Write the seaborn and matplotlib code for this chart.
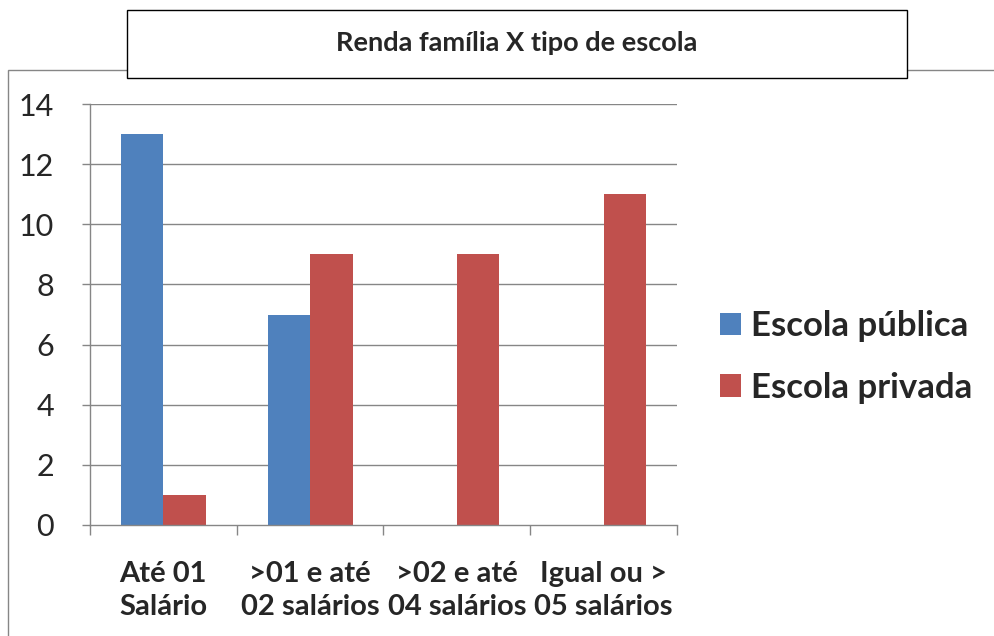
import matplotlib
matplotlib.use("Agg")
import matplotlib.pyplot as plt
from matplotlib.patches import Rectangle, Patch
import seaborn as sns
import pandas as pd

categories = ["Até 01\nSalário", ">01 e até\n02 salários", ">02 e até\n04 salários", "Igual ou >\n05 salários"]
series_names = ["Escola pública", "Escola privada"]
publica = [13, 7, 0, 0]
privada = [1, 9, 9, 11]
yticks = [0, 2, 4, 6, 8, 10, 12, 14]
title = "Renda família X tipo de escola"
colors = ["#4F81BD", "#C0504D"]

df = pd.DataFrame({
    "cat": categories * 2,
    "val": publica + privada,
    "serie": [series_names[0]] * 4 + [series_names[1]] * 4,
})

sns.set_theme(style="white")
plt.rcParams["font.family"] = ["Lato", "DejaVu Sans"]

W, H = 995, 636
fig = plt.figure(figsize=(W / 100, H / 100), dpi=100)
ax = fig.add_axes([90 / W, 1 - 525 / H, (677 - 90) / W, (525 - 104) / H])

sns.barplot(data=df, x="cat", y="val", hue="serie", palette=colors, width=0.58,
            ax=ax, legend=False, saturation=1, edgecolor="none")

ax.set_ylim(0, 14)
ax.set_xlim(-0.5, 3.5)
ax.set_yticks(yticks)
ax.set_yticklabels([str(v) for v in yticks], fontsize=22)
ax.set_xticks([-0.5, 0.5, 1.5, 2.5, 3.5], minor=False)
ax.set_xticklabels([])
ax.set_xticks([0, 1, 2, 3], minor=True)
ax.set_xticklabels(categories, minor=True, fontsize=21, fontweight="bold", linespacing=1.33)
ax.tick_params(axis="x", which="minor", length=0, pad=26)
ax.tick_params(axis="x", which="major", length=7, width=1, color="#868686", direction="out", bottom=True)
ax.tick_params(axis="y", length=6, width=1, color="#868686", direction="out", left=True, pad=20)
ax.set_xlabel("")
ax.set_ylabel("")
for y in yticks[1:]:
    ax.axhline(y, color="#868686", lw=1, zorder=0)
for s in ["top", "right"]:
    ax.spines[s].set_visible(False)
for s in ["left", "bottom"]:
    ax.spines[s].set_color("#868686")
    ax.spines[s].set_linewidth(1)
ax.set_axisbelow(True)

# figure border (chart area)
fig.patches.append(Rectangle((8 / W, -0.1), 1.2, 1 - 70 / H + 0.1, transform=fig.transFigure,
                             fill=False, edgecolor="#868686", lw=1, zorder=0))
# title box
fig.patches.append(Rectangle((127 / W, 1 - 78 / H), (907 - 127) / W, (78 - 10) / H, transform=fig.transFigure,
                             facecolor="white", edgecolor="black", lw=1, zorder=2))
fig.text((127 + 907) / 2 / W, 1 - 43 / H, title, ha="center", va="center", fontsize=19.5,
         fontweight="bold", zorder=3)

handles = [Patch(facecolor=c, edgecolor="none") for c in colors]
fig.legend(handles, series_names, loc="center left", bbox_to_anchor=(689 / W, 1 - 357 / H),
           frameon=False, prop={"size": 25, "weight": "bold"}, handlelength=0.6, handleheight=0.6,
           handletextpad=0.3, labelspacing=0.85)

fig.savefig("out.png", dpi=100)
